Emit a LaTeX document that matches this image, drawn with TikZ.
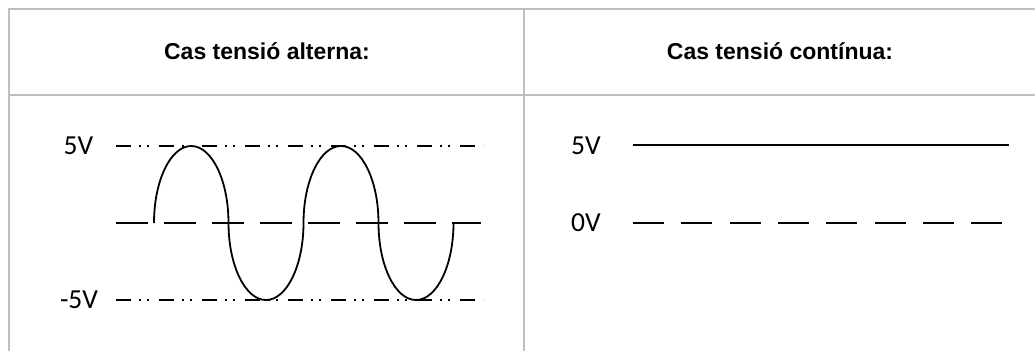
\documentclass[tikz,border=0pt]{standalone}
\usepackage{fontspec}
\setmainfont{Liberation Sans}
\newfontfamily\labelfont{Carlito}
\definecolor{gridgray}{HTML}{BFBFBF}
\begin{document}
\begin{tikzpicture}[x=1pt,y=-1pt,
  gridline/.style={draw=gridgray,line width=2pt},
  title/.style={font=\bfseries\fontsize{23}{27}\selectfont,inner sep=0pt},
  vlabel/.style={font=\labelfont\fontsize{27.5}{32}\selectfont,inner sep=0pt},
  wave/.style={line width=1.8pt},
  dashdotdot/.style={line width=1.8pt,dash pattern=on 15pt off 8pt on 2pt off 6pt on 2pt off 10pt},
  longdash/.style={line width=1.8pt,dash pattern=on 32pt off 16pt},
  longdashR/.style={line width=1.8pt,dash pattern=on 31pt off 17.3pt}]
\useasboundingbox (0,0) rectangle (1035,351);
% table grid
\draw[gridline] (9,351) -- (9,9) -- (1035,9);
\draw[gridline] (9,95) -- (1035,95);
\draw[gridline] (524,9) -- (524,351);
% titles
\node[title] (tA) at (267,51) {Cas tensió alterna:};
\node[title] (tC) at (780,51) {Cas tensió contínua:};
% AC labels
\node[vlabel] (p5) at (78.5,146) {5V};
\node[vlabel] (m5) at (79,300) {-5V};
% AC reference lines
\coordinate (a5s) at (116,146); \coordinate (a5e) at (483,146);
\coordinate (a0s) at (116,223); \coordinate (a0e) at (481,223);
\coordinate (am5s) at (116,300); \coordinate (am5e) at (483,300);
\draw[dashdotdot] (a5s) -- (a5e);
\draw[longdash] (a0s) -- (a0e);
\draw[dashdotdot] (am5s) -- (am5e);
% sine made of half ellipses
\coordinate (w0) at (154,223);
\draw[wave] (w0) arc[start angle=180,end angle=0,x radius=37.25,y radius=-77]
  arc[start angle=180,end angle=360,x radius=37.5,y radius=-77]
  arc[start angle=180,end angle=0,x radius=37.5,y radius=-77]
  arc[start angle=180,end angle=360,x radius=37.5,y radius=-77];
% DC labels
\node[vlabel] (d5) at (586,146) {5V};
\node[vlabel] (d0) at (586,223) {0V};
\coordinate (d5s) at (633,145); \coordinate (d5e) at (1009,145);
\coordinate (d0s) at (633,223); \coordinate (d0e) at (1006,223);
\draw[wave] (d5s) -- (d5e);
\draw[longdashR] (d0s) -- (d0e);
\end{tikzpicture}
\end{document}
